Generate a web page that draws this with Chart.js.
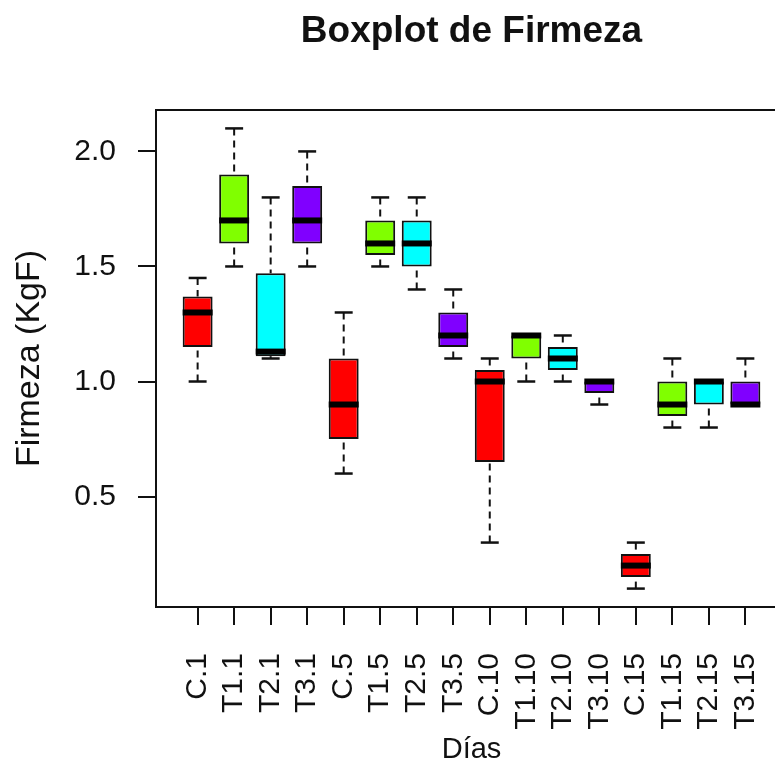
<!DOCTYPE html>
<html>
<head>
<meta charset="utf-8">
<title>Boxplot de Firmeza</title>
<script src="https://cdn.jsdelivr.net/npm/chart.js@4.4.0/dist/chart.umd.min.js"></script>
<style>
  html, body { margin: 0; padding: 0; background: #fff; overflow: hidden; }
  #wrap { width: 800px; height: 769px; }
</style>
</head>
<body>
<div id="wrap"><canvas id="firmezaChart" width="800" height="769"></canvas></div>
<script>
// Tratamientos por día de muestreo
const categories = ['C.1', 'T1.1', 'T2.1', 'T3.1', 'C.5', 'T1.5', 'T2.5', 'T3.5',
                    'C.10', 'T1.10', 'T2.10', 'T3.10', 'C.15', 'T1.15', 'T2.15', 'T3.15'];

// Resumen de cinco números por tratamiento (KgF)
const mins    = [1.00, 1.50, 1.10, 1.50, 0.60, 1.50, 1.40, 1.10, 0.30, 1.00, 1.00, 0.90, 0.10, 0.80, 0.80, 0.90];
const q1s     = [1.15, 1.60, 1.11, 1.60, 0.75, 1.55, 1.50, 1.15, 0.65, 1.10, 1.05, 0.95, 0.15, 0.85, 0.90, 0.90];
const medians = [1.30, 1.70, 1.13, 1.70, 0.90, 1.60, 1.60, 1.20, 1.00, 1.20, 1.10, 1.00, 0.20, 0.90, 1.00, 0.90];
const q3s     = [1.37, 1.90, 1.47, 1.85, 1.10, 1.70, 1.70, 1.30, 1.05, 1.20, 1.15, 1.00, 0.25, 1.00, 1.00, 1.00];
const maxs    = [1.45, 2.10, 1.80, 2.00, 1.30, 1.80, 1.80, 1.40, 1.10, 1.20, 1.20, 1.00, 0.30, 1.10, 1.00, 1.10];

const yTicks = [0.5, 1.0, 1.5, 2.0];

// Un color por tratamiento (C, T1, T2, T3)
const groupColors = ['#FF0000', '#80FF00', '#00FFFF', '#8000FF'];

const FONT = "'Liberation Sans', Arial, sans-serif";
const INK = '#111';

// Bigotes punteados y topes, detrás de las cajas
const whiskerPlugin = {
    id: 'whiskers',
    beforeDatasetsDraw(chart) {
        const { ctx, scales: { x, y } } = chart;
        const meta = chart.getDatasetMeta(0);
        ctx.save();
        ctx.strokeStyle = INK;
        meta.data.forEach((bar, i) => {
            const cx = x.getPixelForValue(i + 1);
            const half = bar.width * 0.3;
            const segs = [];
            if (maxs[i] > q3s[i]) segs.push([q3s[i], maxs[i]]);
            if (mins[i] < q1s[i]) segs.push([q1s[i], mins[i]]);
            segs.forEach(([from, to]) => {
                const y0 = y.getPixelForValue(from);
                const y1 = y.getPixelForValue(to);
                ctx.setLineDash([7, 5]);
                ctx.lineWidth = 2;
                ctx.beginPath();
                ctx.moveTo(cx, y1);
                ctx.lineTo(cx, y0);
                ctx.stroke();
                ctx.setLineDash([]);
                ctx.lineWidth = 2.5;
                ctx.beginPath();
                ctx.moveTo(cx - half, y1);
                ctx.lineTo(cx + half, y1);
                ctx.stroke();
            });
        });
        ctx.restore();
    },
    afterDatasetsDraw(chart) {
        // mediana como trazo grueso
        const { ctx, scales: { x, y } } = chart;
        const meta = chart.getDatasetMeta(0);
        ctx.save();
        ctx.strokeStyle = '#000';
        ctx.lineWidth = 6;
        meta.data.forEach((bar, i) => {
            const cx = x.getPixelForValue(i + 1);
            const my = y.getPixelForValue(medians[i]);
            ctx.beginPath();
            ctx.moveTo(cx - bar.width / 2, my);
            ctx.lineTo(cx + bar.width / 2, my);
            ctx.stroke();
        });
        ctx.restore();
    }
};

// Marco completo alrededor del área de trazado
const framePlugin = {
    id: 'frame',
    afterDraw(chart) {
        const { ctx, chartArea: a } = chart;
        ctx.save();
        ctx.strokeStyle = INK;
        ctx.lineWidth = 2;
        ctx.strokeRect(a.left, a.top, a.right - a.left, a.bottom - a.top);
        ctx.restore();
    }
};

const boxes = categories.map((c, i) => ({ x: i + 1, y: [q1s[i], q3s[i]] }));
const fills = categories.map((c, i) => groupColors[i % groupColors.length]);

new Chart(document.getElementById('firmezaChart'), {
    type: 'bar',
    data: {
        datasets: [{
            data: boxes,
            backgroundColor: fills,
            borderColor: INK,
            borderWidth: 2,
            borderSkipped: false,
            barPercentage: 0.82,
            categoryPercentage: 1
        }]
    },
    plugins: [whiskerPlugin, framePlugin],
    options: {
        responsive: false,
        animation: false,
        layout: { padding: { left: 0, right: 13, top: 0, bottom: 0 } },
        plugins: {
            legend: { display: false },
            tooltip: { enabled: false },
            title: {
                display: true,
                text: 'Boxplot de Firmeza',
                color: INK,
                fullSize: false,
                font: { family: FONT, size: 37, weight: 'bold' },
                padding: { top: 10, bottom: 55.6 }
            }
        },
        scales: {
            x: {
                type: 'linear',
                offset: false,
                min: -0.14,
                max: 17.14,
                afterBuildTicks: scale => {
                    scale.ticks = categories.map((c, i) => ({ value: i + 1 }));
                },
                afterFit: scale => {
                    // sin margen extra por las etiquetas de los extremos
                    scale.height = 162;
                    scale.paddingLeft = 0;
                    scale.paddingRight = 0;
                },
                grid: {
                    offset: false,
                    drawOnChartArea: false,
                    drawTicks: true,
                    tickLength: 18,
                    color: INK,
                    lineWidth: 2
                },
                border: { display: false },
                ticks: {
                    autoSkip: false,
                    minRotation: 90,
                    maxRotation: 90,
                    padding: 28,
                    color: INK,
                    font: { family: FONT, size: 30 },
                    callback: value => categories[value - 1]
                },
                title: {
                    display: true,
                    text: 'Días',
                    color: INK,
                    font: { family: FONT, size: 29 },
                    padding: { top: 0, bottom: 2 }
                }
            },
            y: {
                min: 0.02,
                max: 2.18,
                afterBuildTicks: scale => {
                    scale.ticks = yTicks.map(v => ({ value: v }));
                },
                afterFit: scale => {
                    scale.width = 156;
                    scale.paddingTop = 0;
                    scale.paddingBottom = 0;
                },
                grid: {
                    drawOnChartArea: false,
                    drawTicks: true,
                    tickLength: 18,
                    color: INK,
                    lineWidth: 2
                },
                border: { display: false },
                ticks: {
                    padding: 22,
                    color: INK,
                    font: { family: FONT, size: 30 },
                    callback: value => value.toFixed(1)
                },
                title: {
                    display: true,
                    text: 'Firmeza (KgF)',
                    color: INK,
                    font: { family: FONT, size: 34 },
                    padding: { top: 9, bottom: 0 }
                }
            }
        }
    }
});
</script>
</body>
</html>
